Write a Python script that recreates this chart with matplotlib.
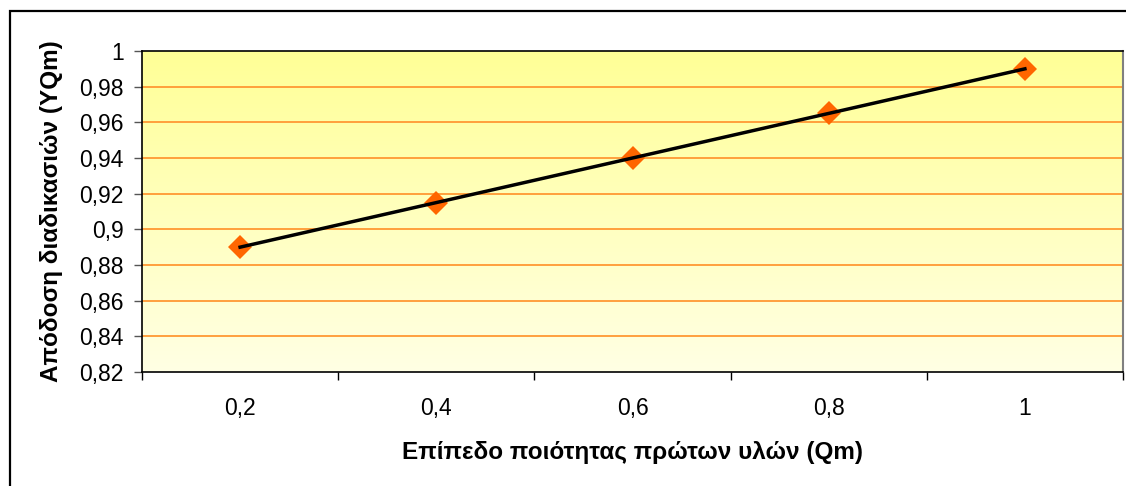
import numpy as np
import matplotlib.pyplot as plt
from matplotlib.patches import Rectangle

plt.rcParams['font.family'] = ['Liberation Sans', 'DejaVu Sans']

categories = ['0,2', '0,4', '0,6', '0,8', '1']
yqm = [0.89, 0.915, 0.94, 0.965, 0.99]
yticks = [0.82, 0.84, 0.86, 0.88, 0.90, 0.92, 0.94, 0.96, 0.98, 1.0]
ytick_labels = ['0,82', '0,84', '0,86', '0,88', '0,9', '0,92', '0,94', '0,96', '0,98', '1']

fig = plt.figure(figsize=(11.26, 4.86), dpi=100)
ax = fig.add_axes([142/1126, 1-372/486, (1123-142)/1126, (372-51)/486])

# outer chart frame (right/bottom edges fall outside the picture)
fig.patches.append(Rectangle((10/1126, -0.05), 1.2, 1-11/486+0.05, transform=fig.transFigure,
                             fill=False, edgecolor='black', linewidth=1.6, zorder=0))

x = np.arange(len(categories))
ax.set_xlim(-0.5, len(categories)-0.5)
ax.set_ylim(0.82, 1.0)

# yellow gradient background
grad = np.linspace(0, 1, 256).reshape(-1, 1)
top = np.array([255, 255, 150]) / 255
bot = np.array([255, 255, 228]) / 255
img = bot + (top - bot) * grad
ax.imshow(img.reshape(256, 1, 3), extent=[-0.5, len(categories)-0.5, 0.82, 1.0],
          origin='lower', aspect='auto', zorder=0)

for yv in yticks[1:-1]:
    ax.axhline(yv, color='#FF9933', linewidth=1.3, zorder=1)

ax.plot(x, yqm, color='black', linewidth=2.5, zorder=3)
ax.plot(x, yqm, linestyle='none', marker='D', markersize=12, color='#FF6600',
        markeredgewidth=0, zorder=2)

ax.set_yticks(yticks)
ax.set_yticklabels(ytick_labels, fontsize=16.5)
ax.tick_params(axis='y', direction='out', length=6, width=1, color='#555555', pad=7)

ax.set_xticks(np.arange(-0.5, len(categories)))
ax.set_xticklabels([])
ax.set_xticks(x, minor=True)
ax.set_xticklabels(categories, minor=True, fontsize=16.5)
ax.tick_params(axis='x', which='major', direction='out', length=6, width=1)
ax.tick_params(axis='x', which='minor', length=0, pad=18)

for s in ['left', 'bottom', 'top']:
    ax.spines[s].set_color('black')
    ax.spines[s].set_linewidth(1.2)
ax.spines['right'].set_color('#808080')
ax.spines['right'].set_linewidth(1.5)

fig.text(632/1126, 1-452/486, 'Επίπεδο ποιότητας πρώτων υλών (Qm)', ha='center', va='center',
         fontsize=17.5, fontweight='bold')
fig.text(52/1126, 1-211/486, 'Απόδοση διαδικασιών (YQm)', ha='center', va='center',
         rotation=90, fontsize=17.5, fontweight='bold')

fig.savefig('out.png', dpi=100)
